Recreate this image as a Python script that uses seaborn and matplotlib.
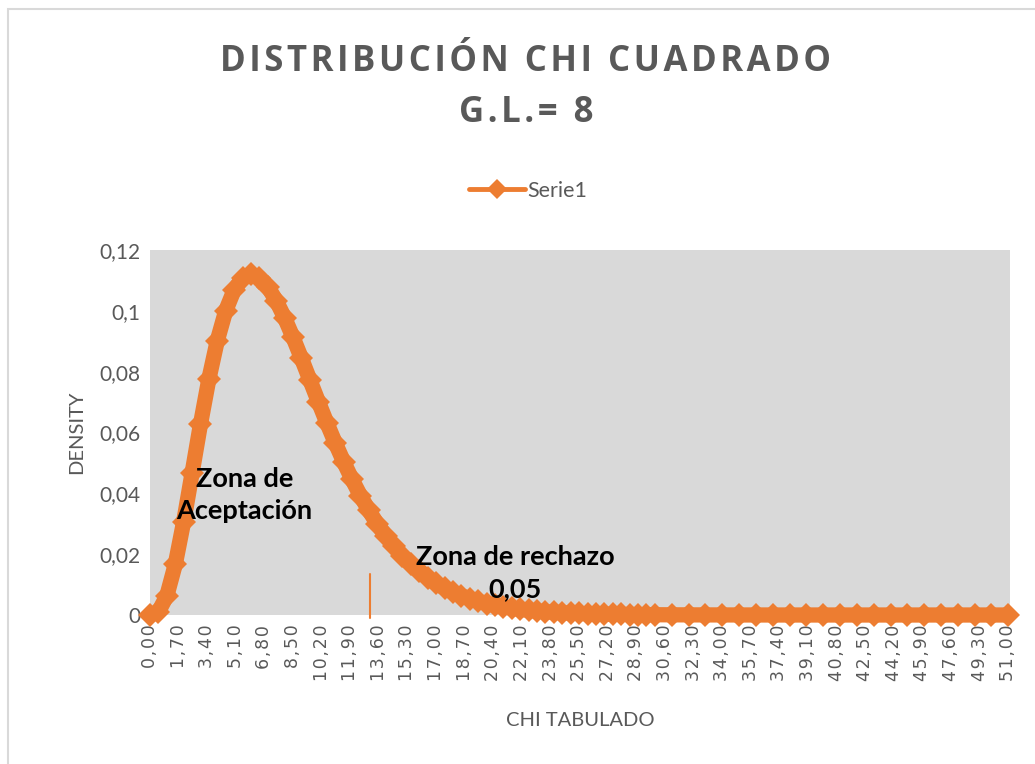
import matplotlib
matplotlib.use("Agg")
import matplotlib.pyplot as plt
import matplotlib.patches as mpatches
import seaborn as sns
import pandas as pd

# Chi-square density (8 d.f.)
chi = [0, 0.5, 1, 1.5, 2, 2.5, 3, 3.5, 4, 4.5, 5, 5.5, 6, 6.5, 7, 7.5, 8, 8.5, 9, 9.5,
       10, 10.5, 11, 11.5, 12, 12.5, 13, 13.5, 14, 14.5, 15, 15.5, 16, 16.5, 17, 17.5,
       18, 18.5, 19, 19.5, 20, 20.5, 21, 21.5, 22, 22.5, 23, 23.5, 24, 24.5, 25, 25.5,
       26, 26.5, 27, 27.5, 28, 28.5, 29, 29.5, 30, 31, 32, 33, 34,
       35, 36, 37, 38, 39, 40, 41, 42, 43, 44, 45, 46, 47, 48, 49, 50, 51]
density = [0.0, 0.00101, 0.00632, 0.01661, 0.03066, 0.04663, 0.06276, 0.07762, 0.09022,
           0.10004, 0.10688, 0.11080, 0.11202, 0.11091, 0.10789, 0.10335, 0.09768,
           0.09125, 0.08436, 0.07727, 0.07019, 0.06328, 0.05667, 0.05043, 0.04462,
           0.03927, 0.03440, 0.03001, 0.02607, 0.02255, 0.01944, 0.01671, 0.01431,
           0.01223, 0.01041, 0.00885, 0.00750, 0.00634, 0.00535, 0.00450, 0.00378,
           0.00317, 0.00266, 0.00222, 0.00185, 0.00154, 0.00128, 0.00107, 0.00088,
           0.00073, 0.00061, 0.00050, 0.00041, 0.00034, 0.00028, 0.00023, 0.00019,
           0.00016, 0.00013, 0.00011, 0.00009, 0.00006, 0.00004, 0.00003, 0.00002,
           0.00001, 0.00001, 0.0, 0.0, 0.0, 0.0, 0.0, 0.0, 0.0, 0.0, 0.0, 0.0, 0.0,
           0.0, 0.0, 0.0, 0.0]

x_ticks = [round(i * 1.7, 2) for i in range(31)]
x_labels = [f"{v:.2f}".replace(".", ",") for v in x_ticks]
y_ticks = [0, 0.02, 0.04, 0.06, 0.08, 0.1, 0.12]
y_labels = ["0", "0,02", "0,04", "0,06", "0,08", "0,1", "0,12"]

df = pd.DataFrame({"chi": chi, "density": density})

orange = "#ED7D31"
grey = "#595959"

sns.set_style("white")
plt.rcParams["font.family"] = ["Lato", "DejaVu Sans"]

fig = plt.figure(figsize=(10.35, 7.64), dpi=100)
ax = fig.add_axes([150 / 1035, 1 - 615 / 764, 860 / 1035, 365 / 764])
ax.set_facecolor("#D9D9D9")

sns.lineplot(data=df, x="chi", y="density", ax=ax, color=orange, linewidth=11,
             marker="D", markersize=12, markeredgewidth=0, label="Serie1",
             clip_on=False, zorder=3)

# critical value marker
ax.plot([13.1, 13.1], [-0.001, 0.0135], color=orange, linewidth=1.5, clip_on=False)

ax.set_xlim(0, 51.1)
ax.set_ylim(0, 0.12)
ax.set_xticks(x_ticks)
ax.set_xticklabels(["\u200a".join(s) for s in x_labels], rotation=90,
                   family="DejaVu Sans", fontsize=12.5, color=grey)
ax.set_yticks(y_ticks)
ax.set_yticklabels(y_labels, fontsize=15, color=grey)
ax.tick_params(axis="both", length=0, pad=7)
for s in ax.spines.values():
    s.set_visible(False)

ax.set_xlabel("CHI TABULADO", fontsize=14.5, color=grey, labelpad=22)
ax.set_ylabel("DENSITY", fontsize=14.5, color=grey, labelpad=10)

ax.text(5.6, 0.0395, "Zona de\nAceptación", ha="center", va="center",
        fontsize=19.5, fontweight="bold", color="black", linespacing=1.4, zorder=5)
ax.text(21.7, 0.0138, "Zona de rechazo\n0,05", ha="center", va="center",
        fontsize=19.5, fontweight="bold", color="black", linespacing=1.4, zorder=5)

leg = ax.legend(loc="center", bbox_to_anchor=(0.51, 1 - 191 / 764, 0, 0),
                bbox_transform=fig.transFigure, frameon=False, fontsize=15.5,
                handlelength=2.6, handletextpad=0.1)
for t in leg.get_texts():
    t.set_color(grey)
for h in leg.get_lines():
    h.set_linewidth(3.5)
    h.set_markersize(10)

# Excel title uses letter spacing: pad characters with hair spaces
title_lines = ["DISTRIBUCIÓN CHI CUADRADO", "G.L.= 8"]
title_kw = dict(ha="center", va="center", fontsize=25, fontweight="bold",
                color=grey, family=["Open Sans", "DejaVu Sans"])
fig.text(0.508, 1 - 62 / 764, "\u200a".join(title_lines[0]), **title_kw)
fig.text(0.508, 1 - 113 / 764, "\u200a".join(title_lines[1]), **title_kw)

fig.patches.append(mpatches.Rectangle((8 / 1035, -0.05), 1.1, 1.05 - 9 / 764,
                                      transform=fig.transFigure, fill=False,
                                      edgecolor="#D9D9D9", linewidth=1.5))

fig.savefig("out.png", dpi=100)
